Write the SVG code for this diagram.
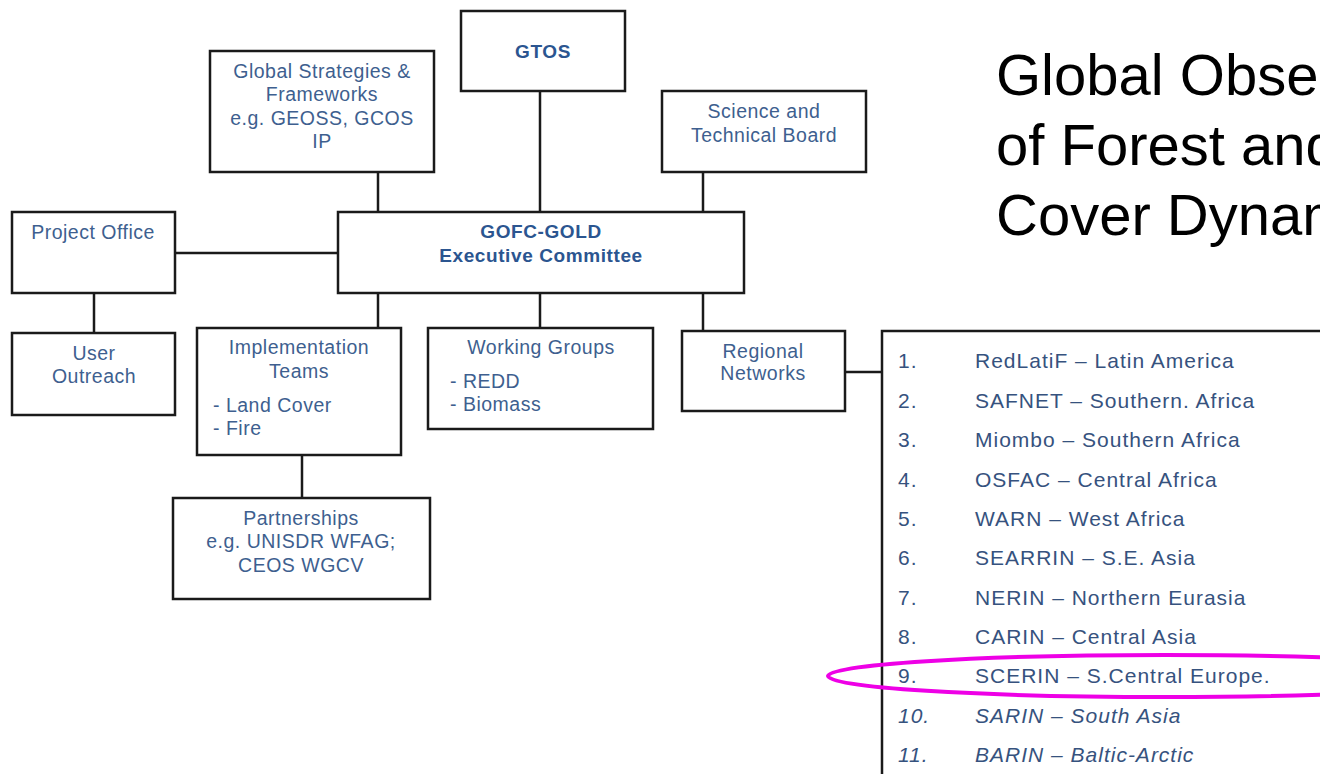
<svg xmlns="http://www.w3.org/2000/svg" width="1320" height="774" viewBox="0 0 1320 774">
<style>
.box{fill:#fff;stroke:#1a1a1a;stroke-width:2.5}
.ln{fill:none;stroke:#1a1a1a;stroke-width:2.5}
.t{font-family:"Liberation Sans",Arial,sans-serif;font-size:19.5px;letter-spacing:0.5px;fill:#3e5f8f}
.c{text-anchor:middle}
.b{font-weight:bold;fill:#2b5590;font-size:19px;letter-spacing:0.6px}
.li{font-family:"Liberation Sans",Arial,sans-serif;font-size:21px;letter-spacing:1px;fill:#36527e}
.it{font-style:italic}
.title{font-family:"Liberation Sans",Arial,sans-serif;font-size:58px;fill:#000}
</style>
<rect width="1320" height="774" fill="#fff"/>
<g id="connectors">
<line class="ln" x1="378" y1="172" x2="378" y2="212"/>
<line class="ln" x1="540" y1="91" x2="540" y2="212"/>
<line class="ln" x1="703" y1="172" x2="703" y2="212"/>
<line class="ln" x1="175" y1="253" x2="338" y2="253"/>
<line class="ln" x1="94" y1="293" x2="94" y2="333"/>
<line class="ln" x1="378" y1="293" x2="378" y2="328"/>
<line class="ln" x1="540" y1="293" x2="540" y2="328"/>
<line class="ln" x1="703" y1="293" x2="703" y2="331"/>
<line class="ln" x1="302" y1="455" x2="302" y2="498"/>
<line class="ln" x1="845" y1="372" x2="882" y2="372"/>
</g>
<g id="gtos"><rect class="box" x="461" y="11" width="164" height="80"/><text class="t c b" x="543" y="58">GTOS</text></g>
<g id="global-strategies"><rect class="box" x="210" y="51" width="224" height="121"/>
<text class="t c" x="322" y="78">Global Strategies &amp;</text>
<text class="t c" x="322" y="101">Frameworks</text>
<text class="t c" x="322" y="125">e.g. GEOSS, GCOS</text>
<text class="t c" x="322" y="148">IP</text></g>
<g id="science-board"><rect class="box" x="662" y="91" width="204" height="81"/>
<text class="t c" x="764" y="118">Science and</text>
<text class="t c" x="764" y="142">Technical Board</text></g>
<g id="project-office"><rect class="box" x="12" y="212" width="163" height="81"/>
<text class="t c" x="93" y="239">Project Office</text></g>
<g id="exec-committee"><rect class="box" x="338" y="212" width="406" height="81"/>
<text class="t c b" x="541" y="238">GOFC-GOLD</text>
<text class="t c b" x="541" y="262">Executive Committee</text></g>
<g id="user-outreach"><rect class="box" x="12" y="333" width="163" height="82"/>
<text class="t c" x="94" y="360">User</text>
<text class="t c" x="94" y="383">Outreach</text></g>
<g id="implementation-teams"><rect class="box" x="197" y="328" width="204" height="127"/>
<text class="t c" x="299" y="354">Implementation</text>
<text class="t c" x="299" y="378">Teams</text>
<text class="t" x="213" y="412">- Land Cover</text>
<text class="t" x="213" y="435">- Fire</text></g>
<g id="working-groups"><rect class="box" x="428" y="328" width="225" height="101"/>
<text class="t c" x="541" y="354">Working Groups</text>
<text class="t" x="450" y="388">- REDD</text>
<text class="t" x="450" y="411">- Biomass</text></g>
<g id="regional-networks"><rect class="box" x="682" y="331" width="163" height="80"/>
<text class="t c" x="763" y="358">Regional</text>
<text class="t c" x="763" y="380">Networks</text></g>
<g id="partnerships"><rect class="box" x="173" y="498" width="257" height="101"/>
<text class="t c" x="301" y="525">Partnerships</text>
<text class="t c" x="301" y="548">e.g. UNISDR WFAG;</text>
<text class="t c" x="301" y="572">CEOS WGCV</text></g>
<g id="network-list">
<path class="ln" d="M882,776 V331 H1322"/>
<text class="li" x="898" y="368">1.</text><text class="li" x="975" y="368">RedLatiF – Latin America</text>
<text class="li" x="898" y="408">2.</text><text class="li" x="975" y="408">SAFNET – Southern. Africa</text>
<text class="li" x="898" y="447">3.</text><text class="li" x="975" y="447">Miombo – Southern Africa</text>
<text class="li" x="898" y="487">4.</text><text class="li" x="975" y="487">OSFAC – Central Africa</text>
<text class="li" x="898" y="526">5.</text><text class="li" x="975" y="526">WARN – West Africa</text>
<text class="li" x="898" y="565">6.</text><text class="li" x="975" y="565">SEARRIN – S.E. Asia</text>
<text class="li" x="898" y="605">7.</text><text class="li" x="975" y="605">NERIN – Northern Eurasia</text>
<text class="li" x="898" y="644">8.</text><text class="li" x="975" y="644">CARIN – Central Asia</text>
<text class="li" x="898" y="683">9.</text><text class="li" x="975" y="683">SCERIN – S.Central Europe.</text>
<text class="li it" x="898" y="723">10.</text><text class="li it" x="975" y="723">SARIN – South Asia</text>
<text class="li it" x="898" y="762">11.</text><text class="li it" x="975" y="762">BARIN – Baltic-Arctic</text>
</g>
<ellipse id="highlight" cx="1165" cy="676" rx="337" ry="21" fill="none" stroke="#ee00e6" stroke-width="4"/>
<g id="title">
<text class="title" x="996" y="95">Global Obse</text>
<text class="title" x="996" y="165">of Forest and</text>
<text class="title" x="996" y="235">Cover Dynam</text>
</g>
</svg>
